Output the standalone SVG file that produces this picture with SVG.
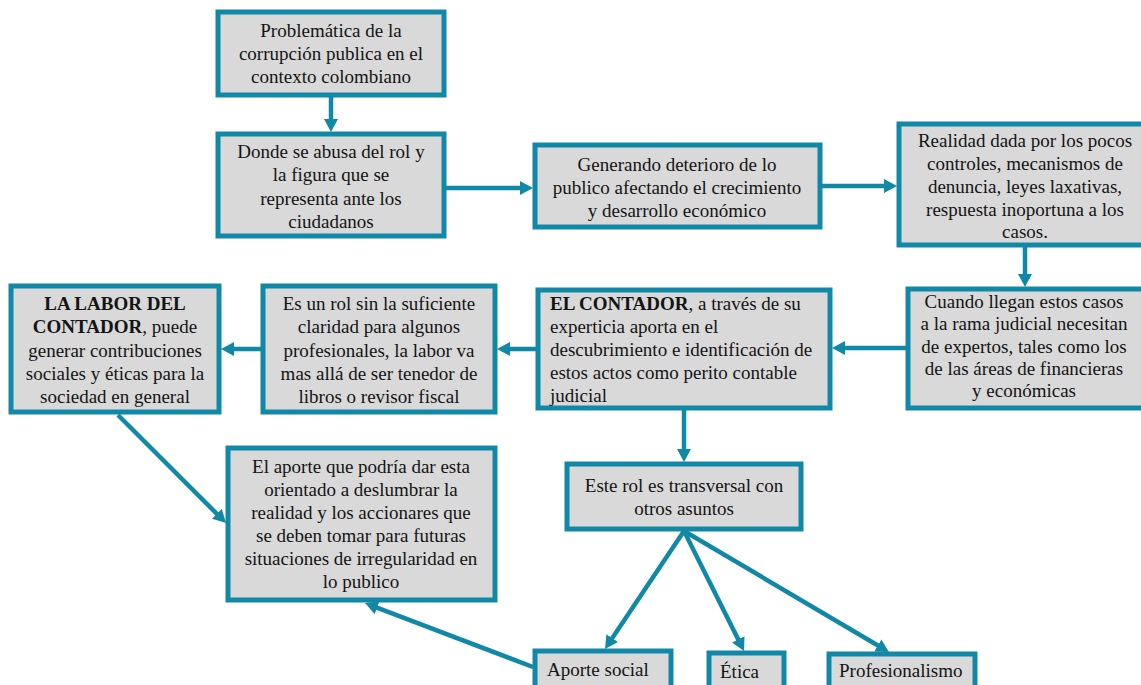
<svg xmlns="http://www.w3.org/2000/svg" width="1141" height="685" viewBox="0 0 1141 685">
<defs>
<style>
.box{fill:#D9D9D9;stroke:#1188A6;stroke-width:5}
.t{font-family:"Liberation Serif","Times New Roman",serif;font-size:19px;fill:#141414}
.c{text-anchor:middle}
.b{font-weight:bold}
.con{stroke:#1188A6;stroke-width:4.5;fill:none;marker-end:url(#ah)}
</style>
<marker id="ah" markerUnits="userSpaceOnUse" markerWidth="14" markerHeight="14" refX="8" refY="7" orient="auto">
<path d="M0,0 L13,7 L0,14 z" fill="#1188A6"/>
</marker>
</defs>
<rect width="1141" height="685" fill="#FFFFFF"/>
<g id="connectors">
<line class="con" x1="331" y1="97" x2="331" y2="127"/>
<line class="con" x1="446" y1="188" x2="528" y2="188"/>
<line class="con" x1="822" y1="186" x2="892" y2="186"/>
<line class="con" x1="1025" y1="247" x2="1025" y2="282"/>
<line class="con" x1="906" y1="348" x2="837" y2="348"/>
<line class="con" x1="536" y1="349" x2="502" y2="349"/>
<line class="con" x1="261" y1="349" x2="226" y2="349"/>
<line class="con" x1="118" y1="415" x2="222.5" y2="519.5"/>
<line class="con" x1="684" y1="410" x2="684" y2="457"/>
<line class="con" x1="684" y1="531" x2="607.8" y2="644.8"/>
<line class="con" x1="684" y1="531" x2="741.8" y2="646.5"/>
<line class="con" x1="684" y1="531" x2="884.7" y2="649.5"/>
<line class="con" x1="533" y1="667" x2="369.7" y2="604.8"/>
</g>
<g id="n1">
<rect class="box" x="218" y="12" width="226" height="83"/>
<text class="t c" x="331" y="37">Problemática de la</text>
<text class="t c" x="331" y="60">corrupción publica en el</text>
<text class="t c" x="331" y="83">contexto colombiano</text>
</g>
<g id="n2">
<rect class="box" x="218" y="134" width="226" height="102"/>
<text class="t c" x="331" y="158">Donde se abusa del rol y</text>
<text class="t c" x="331" y="181">la figura que se</text>
<text class="t c" x="331" y="205">representa ante los</text>
<text class="t c" x="331" y="228">ciudadanos</text>
</g>
<g id="n3">
<rect class="box" x="535" y="145" width="285" height="82"/>
<text class="t c" x="677" y="171">Generando deterioro de lo</text>
<text class="t c" x="677" y="194">publico afectando el crecimiento</text>
<text class="t c" x="677" y="217">y desarrollo económico</text>
</g>
<g id="n4">
<rect class="box" x="899" y="124" width="250" height="121"/>
<text class="t c" x="1025" y="147">Realidad dada por los pocos</text>
<text class="t c" x="1025" y="170">controles, mecanismos de</text>
<text class="t c" x="1025" y="193">denuncia, leyes laxativas,</text>
<text class="t c" x="1025" y="216">respuesta inoportuna a los</text>
<text class="t c" x="1025" y="238">casos.</text>
</g>
<g id="n5">
<rect class="box" x="908" y="289" width="240" height="119"/>
<text class="t c" x="1024" y="308">Cuando llegan  estos casos</text>
<text class="t c" x="1024" y="330">a la rama judicial necesitan</text>
<text class="t c" x="1024" y="353">de expertos, tales como los</text>
<text class="t c" x="1024" y="375">de las áreas de financieras</text>
<text class="t c" x="1024" y="397">y económicas</text>
</g>
<g id="n6">
<rect class="box" x="538" y="290" width="292" height="118"/>
<text class="t" x="550" y="310"><tspan class="b">EL CONTADOR</tspan>, a través de su</text>
<text class="t" x="550" y="333">experticia aporta en el</text>
<text class="t" x="550" y="356">descubrimiento e identificación  de</text>
<text class="t" x="550" y="379">estos actos como perito contable</text>
<text class="t" x="550" y="402">judicial</text>
</g>
<g id="n7">
<rect class="box" x="263" y="286" width="232" height="126"/>
<text class="t c" x="379" y="310">Es un rol sin la suficiente</text>
<text class="t c" x="379" y="333">claridad para algunos</text>
<text class="t c" x="379" y="357">profesionales, la labor va</text>
<text class="t c" x="379" y="380">mas allá de ser tenedor de</text>
<text class="t c" x="379" y="403">libros o revisor fiscal</text>
</g>
<g id="n8">
<rect class="box" x="11" y="286" width="208" height="126"/>
<text class="t c b" x="115" y="310">LA LABOR DEL</text>
<text class="t c" x="115" y="333"><tspan class="b">CONTADOR</tspan>, puede</text>
<text class="t c" x="115" y="357">generar contribuciones</text>
<text class="t c" x="115" y="380">sociales y éticas para la</text>
<text class="t c" x="115" y="403">sociedad en general</text>
</g>
<g id="n9">
<rect class="box" x="228" y="448" width="267" height="152"/>
<text class="t c" x="361" y="473">El aporte que podría dar esta</text>
<text class="t c" x="361" y="496">orientado a deslumbrar la</text>
<text class="t c" x="361" y="519">realidad  y los accionares que</text>
<text class="t c" x="361" y="542">se deben tomar para futuras</text>
<text class="t c" x="361" y="565">situaciones de irregularidad  en</text>
<text class="t c" x="361" y="588">lo publico</text>
</g>
<g id="n10">
<rect class="box" x="567" y="464" width="234" height="65"/>
<text class="t c" x="684" y="492">Este rol es transversal con</text>
<text class="t c" x="684" y="515">otros asuntos</text>
</g>
<g id="n11">
<rect class="box" x="535" y="651" width="136" height="60"/>
<text class="t" x="547" y="676">Aporte social</text>
</g>
<g id="n12">
<rect class="box" x="709" y="653" width="75" height="60"/>
<text class="t" x="720" y="678">Ética</text>
</g>
<g id="n13">
<rect class="box" x="829" y="654" width="146" height="60"/>
<text class="t" x="839" y="677">Profesionalismo</text>
</g>
</svg>
